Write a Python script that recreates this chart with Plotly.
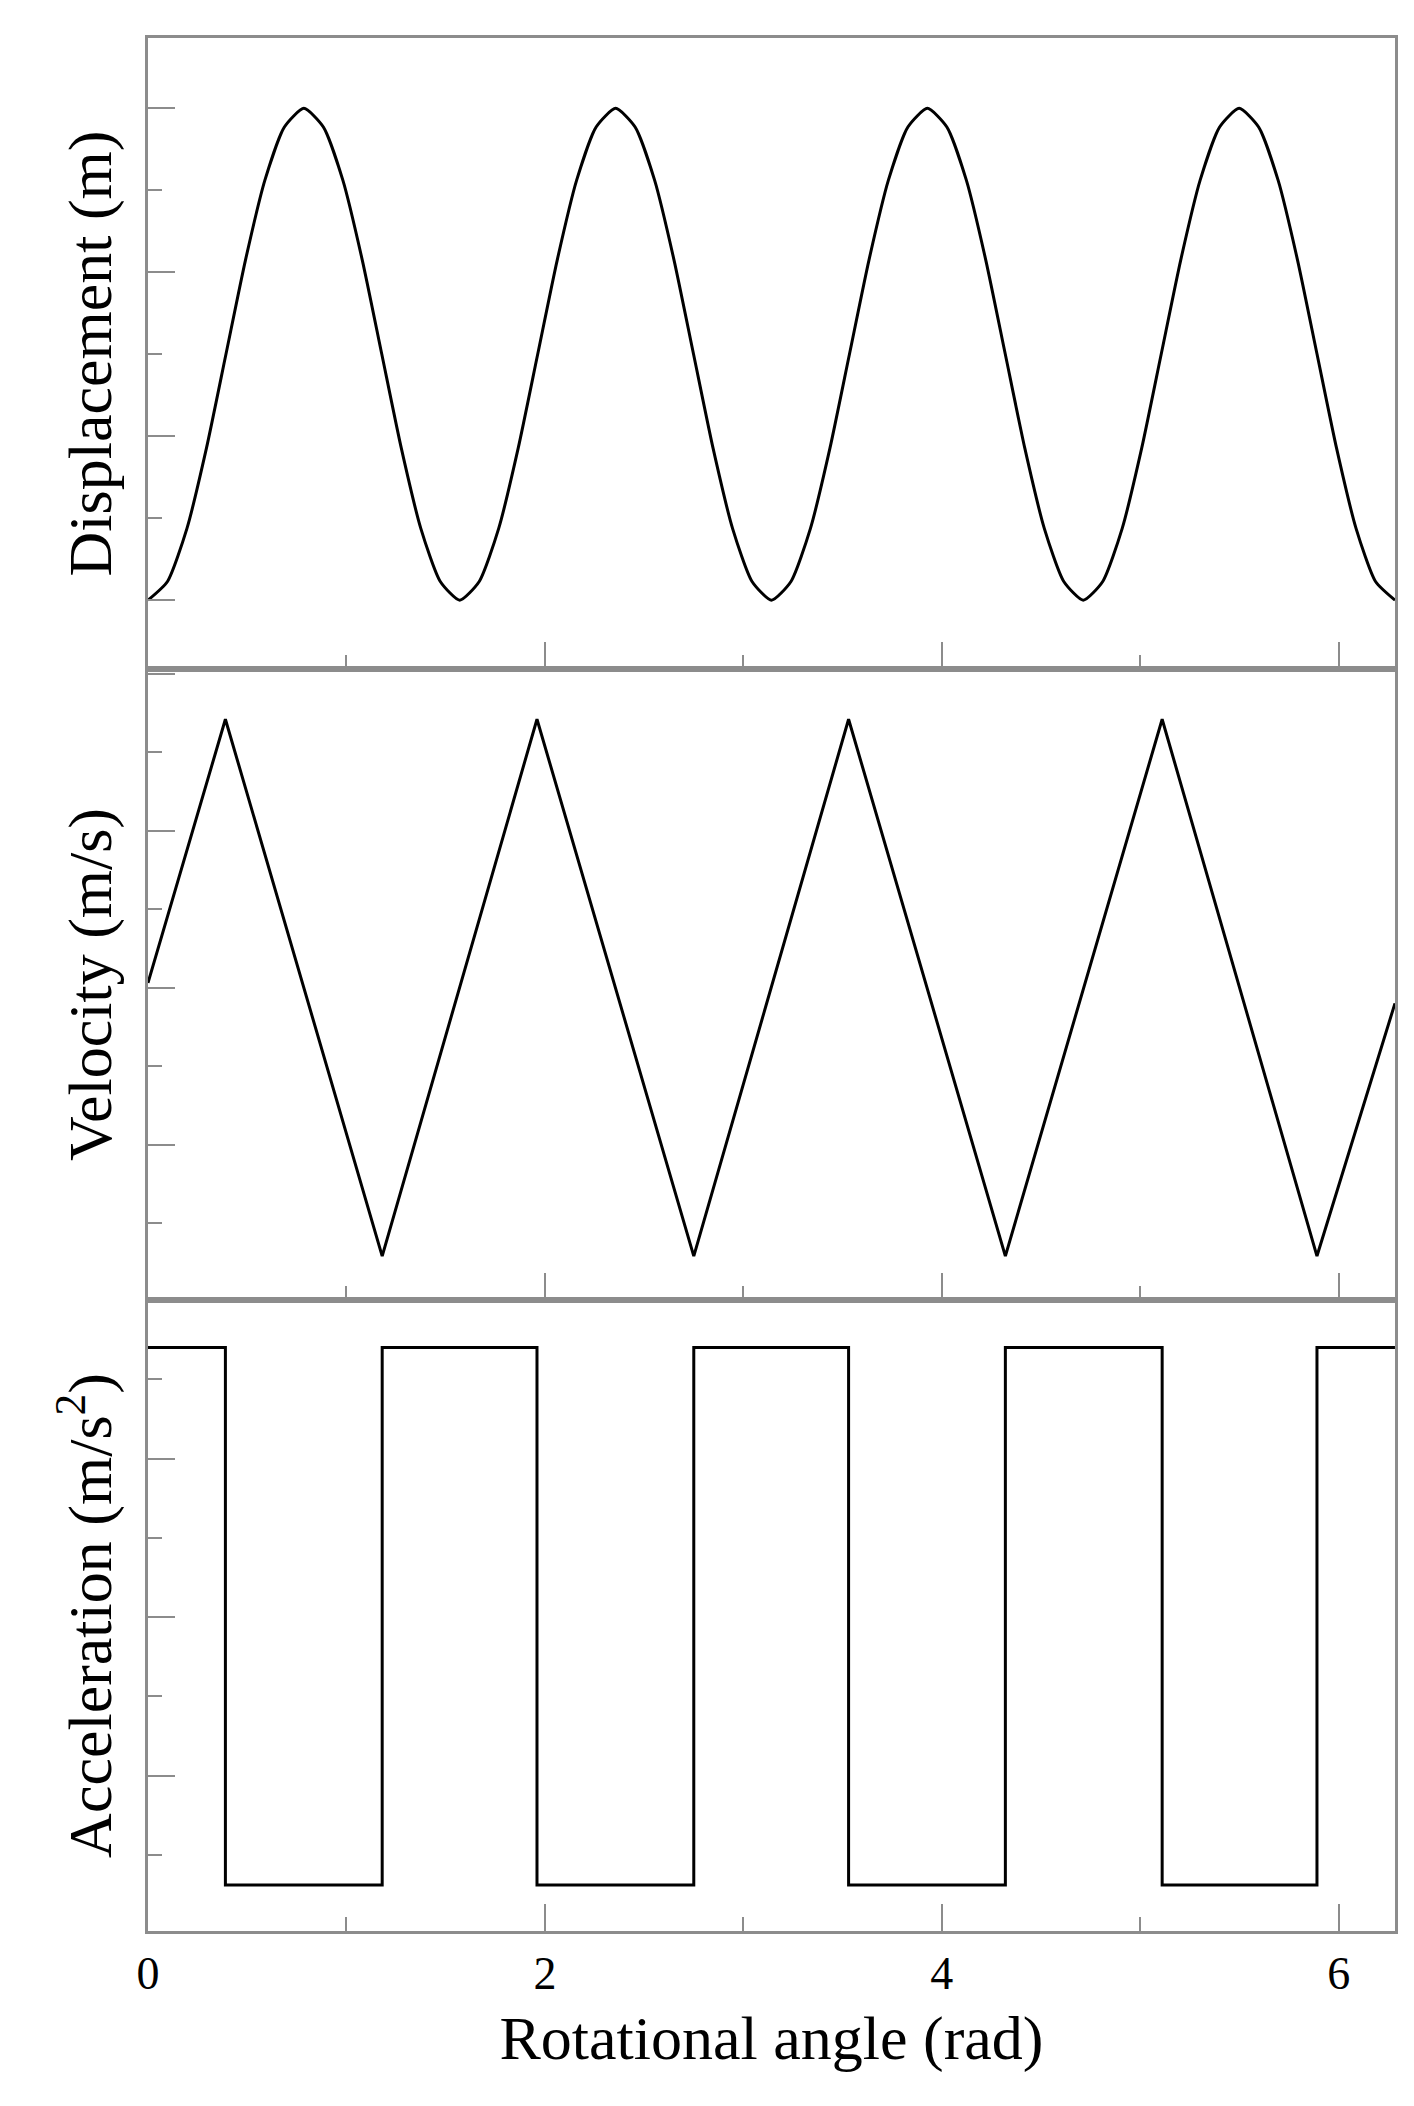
import plotly.graph_objects as go
from plotly.subplots import make_subplots
import math

# Displacement samples (every pi/32 rad)
disp_x = [i * math.pi / 32 for i in range(65)]
disp_y = [0, 0.038, 0.146, 0.309, 0.5, 0.691, 0.854, 0.962, 1, 0.962, 0.854, 0.691, 0.5, 0.309, 0.146, 0.038] * 4 + [0]

# Velocity corner points
vel_x = [0, 0.39, 1.18, 1.96, 2.75, 3.53, 4.32, 5.11, 5.89, 6.283]
vel_y = [0.03, 1.71, -1.71, 1.71, -1.71, 1.71, -1.71, 1.71, -1.71, -0.10]

# Acceleration step points
acc_x = [0, 0.39, 0.39, 1.18, 1.18, 1.96, 1.96, 2.75, 2.75, 3.53, 3.53, 4.32, 4.32, 5.11, 5.11, 5.89, 5.89, 6.283]
acc_y = [1.70, 1.70, -1.69, -1.69, 1.70, 1.70, -1.69, -1.69, 1.70, 1.70, -1.69, -1.69, 1.70, 1.70, -1.69, -1.69, 1.70, 1.70]

x_ticks = [0, 2, 4, 6]

fig = make_subplots(rows=3, cols=1, shared_xaxes=True, vertical_spacing=0)
line = dict(color="black", width=3)
fig.add_trace(go.Scatter(x=disp_x, y=disp_y, mode="lines", line=dict(shape="spline", smoothing=0.6, **line)), 1, 1)
fig.add_trace(go.Scatter(x=vel_x, y=vel_y, mode="lines", line=line), 2, 1)
fig.add_trace(go.Scatter(x=acc_x, y=acc_y, mode="lines", line=line), 3, 1)

font = "Liberation Serif"
axcol = "#8c8c8c"
for r in (1, 2, 3):
    fig.update_xaxes(row=r, col=1, range=[0, 2 * math.pi], showgrid=False, zeroline=False,
                     showline=True, mirror=True, linecolor=axcol, linewidth=2.5,
                     ticks="inside", ticklen=27, tickwidth=2, tickcolor=axcol,
                     tickvals=x_ticks, ticktext=[str(v) for v in x_ticks],
                     minor=dict(ticks="inside", ticklen=14, tickwidth=2, tickcolor=axcol, dtick=1, tick0=1),
                     showticklabels=(r == 3),
                     tickfont=dict(family=font, size=46, color="black"))
fig.update_xaxes(row=3, col=1, title=dict(text="Rotational angle (rad)", font=dict(family=font, size=62, color="black"), standoff=18))

yspecs = [
    (1, "Displacement (m)", [-0.14, 1.143], 0, 1/3),
    (2, "Velocity (m/s)", [-1.99, 2.03], -1, 1),
    (3, "Acceleration (m/s<sup>2</sup>)", [-1.98, 2.0], -1, 1),
]
for r, t, rg, t0, dt in yspecs:
    fig.update_yaxes(row=r, col=1, range=rg, showgrid=False, zeroline=False,
                     showline=True, mirror=True, linecolor=axcol, linewidth=2.5,
                     ticks="inside", ticklen=27, tickwidth=2, tickcolor=axcol,
                     tick0=t0, dtick=dt, showticklabels=False,
                     minor=dict(ticks="inside", ticklen=14, tickwidth=2, tickcolor=axcol, dtick=dt / 2, tick0=t0),
                     title=dict(text=t, font=dict(family=font, size=62, color="black"), standoff=14))

fig.update_layout(width=1414, height=2106, showlegend=False,
                  plot_bgcolor="white", paper_bgcolor="white",
                  margin=dict(l=140, r=27, t=30, b=183))
fig.write_html("out.html")
